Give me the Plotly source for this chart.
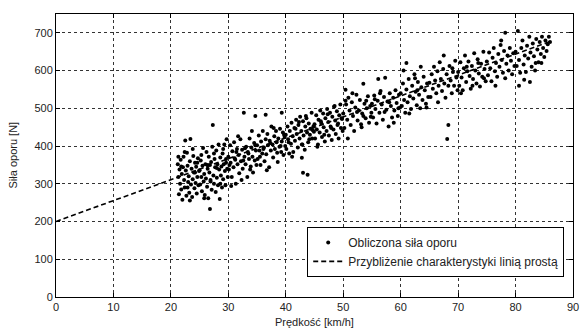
import plotly.graph_objects as go

# ---- data ----
speed_a = [21.2,21.3,21.4,21.5,21.6,21.7,21.8,21.9,22.0,22.1,22.2,22.3,22.4,22.5,22.6,22.7,22.8,22.9,23.0,23.1,23.2,23.3,23.4,23.5,23.6,23.7,23.8,23.9,24.0,24.1,24.2,24.3,24.4,24.5,24.6,24.7,24.8,24.9,21.3,21.8,22.4,22.9,23.3,23.8,24.2,24.6]
force_a = [352,318,272,338,300,364,285,326,258,344,372,310,290,415,335,268,382,348,305,320,276,360,419,298,340,265,312,374,330,288,356,302,345,274,318,368,296,334,372,346,384,290,256,392,330,356]

speed_b = [25.0,25.1,25.2,25.3,25.4,25.5,25.6,25.7,25.8,25.9,26.0,26.1,26.2,26.3,26.4,26.5,26.6,26.7,26.8,26.9,27.0,27.1,27.2,27.3,27.4,27.5,27.6,27.7,27.8,27.9,28.0,28.1,28.2,28.3,28.4,28.5,28.6,28.7,28.8,28.9,29.0,29.1,29.2,29.3,29.4,29.5,29.6,29.7,29.8,29.9,25.3,25.8,26.4,26.9,27.5,28.0,28.6,29.1,29.6,26.8]
force_b = [336,298,362,318,280,348,395,306,326,270,352,314,384,292,340,262,372,330,233,306,358,284,398,456,322,300,366,344,278,388,316,352,296,404,338,260,370,322,346,290,380,312,352,404,334,296,366,418,340,318,376,262,350,310,380,342,300,392,356,350]

speed_c = [30.0,30.1,30.3,30.4,30.6,30.7,30.9,31.0,31.2,31.3,31.5,31.6,31.8,31.9,32.1,32.2,32.4,32.5,32.7,32.8,33.0,33.1,33.3,33.4,33.6,33.7,33.9,34.0,34.2,34.3,34.5,34.6,34.8,34.9,30.5,31.1,31.7,32.3,32.9,33.5,34.1,34.7,30.2,31.4,32.6,33.8]
force_c = [372,338,402,356,318,386,344,410,364,300,392,352,376,328,418,360,390,340,488,372,352,398,318,384,366,420,346,396,372,330,408,362,388,350,294,368,426,310,394,380,440,402,350,384,362,338]

speed_d = [35.0,35.1,35.3,35.4,35.6,35.7,35.9,36.0,36.2,36.3,36.5,36.6,36.8,36.9,37.1,37.2,37.4,37.5,37.7,37.8,38.0,38.1,38.3,38.4,38.6,38.7,38.9,39.0,39.2,39.3,39.5,39.6,39.8,39.9,35.5,36.1,36.7,37.3,37.9,38.5,39.1,39.7,34.7,36.5,39.3]
force_d = [402,366,428,388,350,412,380,440,396,360,418,378,432,402,344,414,388,452,404,370,426,392,440,410,358,420,398,446,384,412,436,376,424,400,372,392,336,408,448,382,400,430,480,483,488]

speed_e = [40.0,40.1,40.3,40.4,40.6,40.7,40.9,41.0,41.2,41.3,41.5,41.6,41.8,41.9,42.1,42.2,42.4,42.5,42.7,42.8,43.0,43.1,43.3,43.4,43.6,43.7,43.9,44.0,44.2,44.3,44.5,44.6,44.8,44.9,40.5,41.1,41.7,42.3,42.9,43.5,44.1,44.7,43.0,43.8,42.8]
force_e = [430,392,452,418,380,440,406,462,426,384,448,414,470,432,396,456,420,478,440,404,466,428,390,452,474,436,410,460,430,446,488,420,452,438,410,372,446,464,404,480,418,442,329,324,369]

speed_f = [45.0,45.1,45.3,45.4,45.6,45.7,45.9,46.0,46.2,46.3,46.5,46.6,46.8,46.9,47.1,47.2,47.4,47.5,47.7,47.8,48.0,48.1,48.3,48.4,48.6,48.7,48.9,49.0,49.2,49.3,49.5,49.6,49.8,49.9,45.5,46.1,46.7,47.3,47.9,48.5,49.1,49.7]
force_f = [458,420,482,444,404,470,436,494,460,424,486,450,412,474,440,498,464,428,488,452,416,478,444,504,468,432,492,456,420,482,510,448,472,440,398,466,430,484,448,506,460,474]

speed_g = [50.0,50.2,50.4,50.5,50.7,50.9,51.1,51.3,51.5,51.7,51.9,52.1,52.3,52.5,52.7,52.9,53.1,53.3,53.5,53.7,53.9,54.1,54.3,54.5,54.7,54.9,50.8,51.6,52.4,53.2,54.0,54.8,50.4,53.5]
force_g = [486,448,549,510,470,528,494,456,516,480,440,502,536,468,494,522,458,486,565,512,474,500,532,462,506,488,420,540,490,450,520,478,520,480]

speed_h = [55.0,55.2,55.4,55.6,55.8,56.0,56.1,56.3,56.5,56.7,56.9,57.1,57.3,57.5,57.7,57.9,58.1,58.3,58.5,58.7,58.9,59.1,59.3,59.5,59.7,59.9,55.5,56.4,57.2,58.0,58.8,59.6]
force_h = [512,476,534,498,460,520,578,488,546,510,470,530,581,496,518,452,540,506,476,528,494,548,514,480,536,502,524,540,490,516,462,500]

speed_i = [60.0,60.2,60.4,60.6,60.8,61.0,61.2,61.4,61.6,61.8,62.0,62.2,62.4,62.6,62.8,63.0,63.2,63.4,63.6,63.8,64.0,64.2,64.4,64.6,64.8,60.5,61.5,62.5,63.5,64.5,61.0,62.9]
force_i = [540,506,566,522,488,550,516,578,532,498,560,526,590,544,508,570,536,500,556,522,584,548,512,566,530,600,486,580,610,502,620,548]

speed_j = [65.0,65.2,65.4,65.6,65.8,66.0,66.2,66.4,66.6,66.8,67.0,67.2,67.4,67.6,67.8,68.0,68.1,68.3,68.5,68.7,68.9,69.1,69.3,69.5,69.7,69.9,66.5,67.5,68.3,69.0]
force_j = [568,530,590,552,610,574,540,598,560,622,578,546,604,566,528,590,419,456,612,574,540,596,560,626,582,548,516,640,560,606]

speed_k = [70.0,70.2,70.4,70.6,70.8,71.0,71.2,71.4,71.6,71.8,72.0,72.2,72.4,72.6,72.8,73.0,73.2,73.4,73.6,73.8,74.0,74.2,74.4,74.6,74.8,70.5,71.5,72.5,73.5,74.5]
force_k = [596,560,622,582,548,606,640,570,598,624,586,552,612,578,646,600,566,630,592,558,618,584,650,604,572,540,610,560,620,580]

speed_l = [75.0,75.2,75.4,75.6,75.8,76.0,76.2,76.4,76.6,76.8,77.0,77.2,77.4,77.6,77.8,78.0,78.2,78.4,78.6,78.8,79.0,79.2,79.4,79.6,79.8,78.2,76.5,77.5]
force_l = [624,588,648,606,572,634,660,598,620,584,644,610,668,628,594,652,700,618,640,600,660,626,590,646,612,580,560,680]

speed_m = [80.0,80.2,80.4,80.6,80.8,81.0,81.2,81.4,81.6,81.8,82.0,82.2,82.4,82.6,82.8,83.0,83.2,83.4,83.6,83.8,84.0,84.2,84.4,84.6,84.8,85.0,85.2,85.4,85.6,85.8,86.0,80.6,82.5,84.5,81.5,83.5]
force_m = [650,612,705,628,594,660,680,616,640,596,666,632,690,648,610,672,638,600,684,656,622,676,644,690,660,636,680,652,670,690,676,560,570,620,576,620]

line_speed = [0, 86]
line_force = [200, 677]

x_ticks = [0, 10, 20, 30, 40, 50, 60, 70, 80, 90]
y_ticks = [0, 100, 200, 300, 400, 500, 600, 700]

speed = (speed_a + speed_b + speed_c + speed_d + speed_e + speed_f + speed_g +
         speed_h + speed_i + speed_j + speed_k + speed_l + speed_m)
force = (force_a + force_b + force_c + force_d + force_e + force_f + force_g +
         force_h + force_i + force_j + force_k + force_l + force_m)

FONT = "Liberation Sans, Arial, Helvetica, sans-serif"
TXT = "#222222"

fig = go.Figure()
fig.add_trace(go.Scatter(
    x=speed, y=force, mode="markers", name="Obliczona siła oporu",
    marker=dict(color="black", size=4, line=dict(width=0)),
))
fig.add_trace(go.Scatter(
    x=line_speed, y=line_force, mode="lines",
    name="Przybliżenie charakterystyki linią prostą",
    line=dict(color="black", width=1.6, dash="5px,3px"),
))

axis_common = dict(
    showline=True, linecolor="black", linewidth=1, mirror="ticks",
    ticks="inside", ticklen=4, tickcolor="black",
    showgrid=True, gridcolor="#333333", griddash="3px,3px", gridwidth=1,
    zeroline=False, tickfont=dict(family=FONT, size=11, color=TXT),
    automargin=False,
)

fig.update_xaxes(range=[0, 90], tickvals=x_ticks, **axis_common)
fig.update_yaxes(range=[0, 750], tickvals=y_ticks, **axis_common)

fig.add_annotation(text="Prędkość [km/h]", xref="paper", yref="paper",
                   x=0.5, y=0, yshift=-25, showarrow=False,
                   xanchor="center", yanchor="middle",
                   font=dict(family=FONT, size=11, color=TXT))
fig.add_annotation(text="Siła oporu [N]", xref="paper", yref="paper",
                   x=0, y=0.5, xshift=-44, showarrow=False, textangle=-90,
                   xanchor="center", yanchor="middle",
                   font=dict(family=FONT, size=11, color=TXT))

fig.update_layout(
    width=582, height=329,
    margin=dict(l=56, r=9, t=14, b=32),
    paper_bgcolor="white", plot_bgcolor="white",
    font=dict(family=FONT, size=11, color=TXT),
    showlegend=True,
    legend=dict(
        x=0.983, y=0.071, xanchor="right", yanchor="bottom",
        bgcolor="white", bordercolor="black", borderwidth=1,
        font=dict(family=FONT, size=12, color=TXT),
        tracegroupgap=0, itemwidth=30,
    ),
)

# remove the browser's default page margin so the figure fills the window exactly
fig.write_html(
    "out.html",
    config={"displayModeBar": False},
    post_script="document.body.style.margin='0';document.body.style.overflow='hidden';",
)
